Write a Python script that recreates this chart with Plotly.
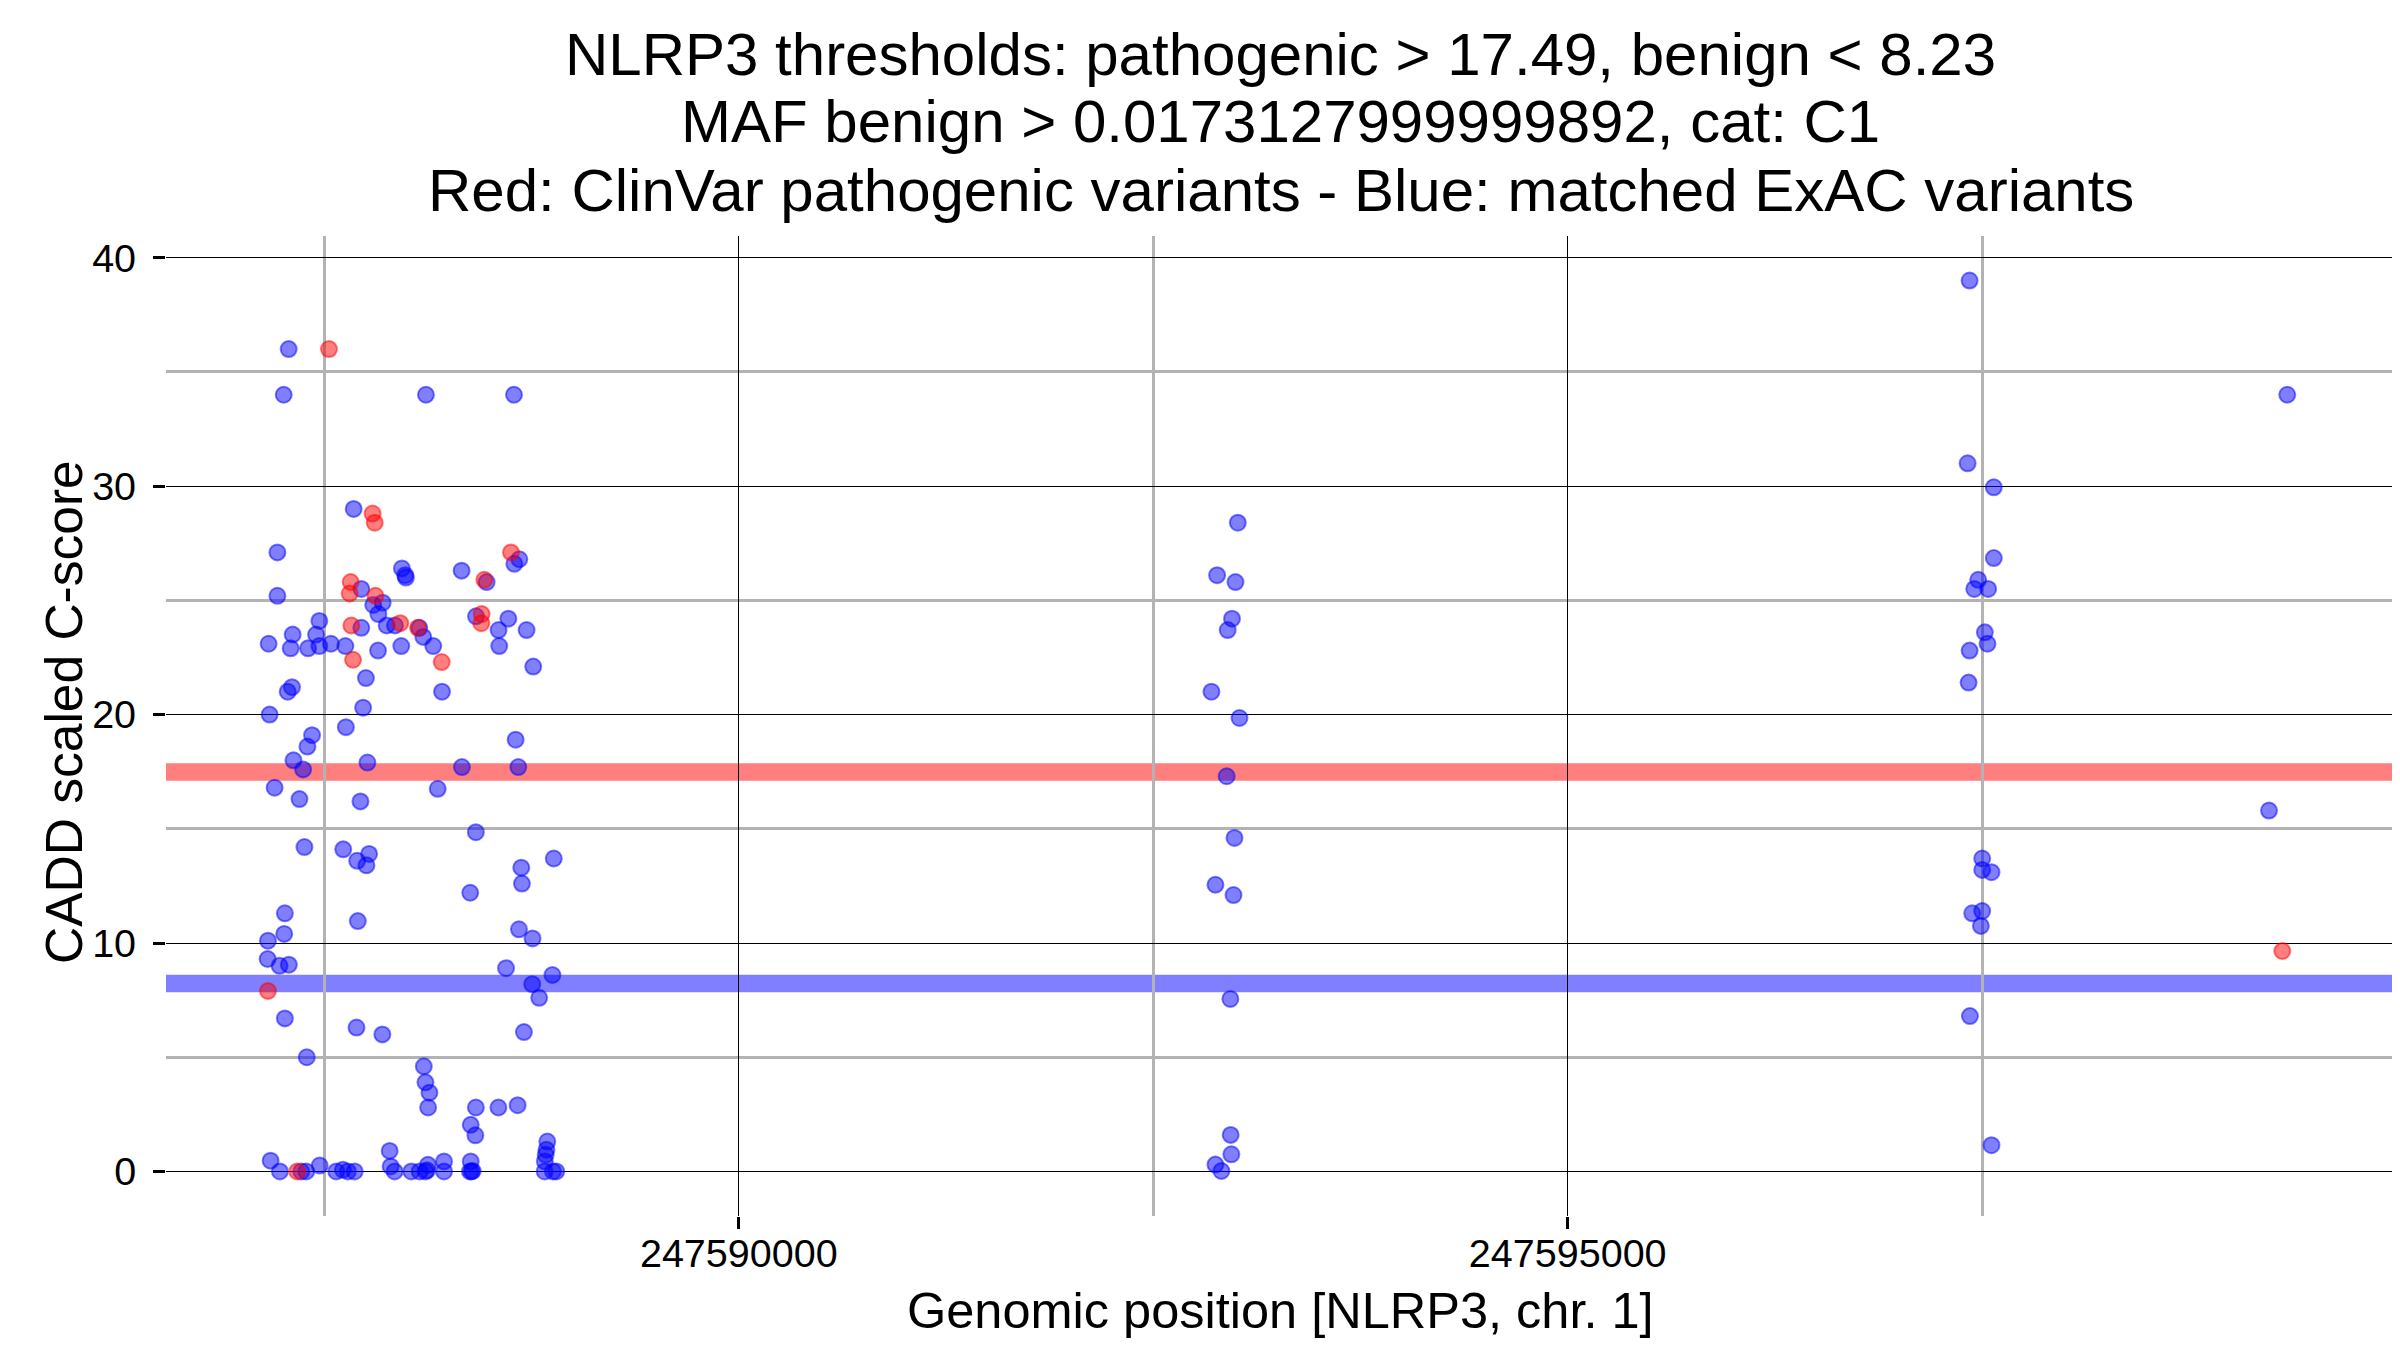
import plotly.graph_objects as go

# ---------------- data ----------------
benign_pos = [
    247587285, 247587255, 247588113, 247588644, 247587677, 247587217, 247587968, 247587988,
    247587992, 247588328, 247588676, 247588646, 247588479, 247587217, 247587723, 247587852,
    247587795, 247587826, 247587470, 247587309, 247587450, 247587164, 247587297, 247587402,
    247587470, 247587540, 247587627, 247587723, 247587824, 247587876, 247587926, 247587964,
    247588073, 247588097, 247588157, 247588210, 247588415, 247588610, 247588551, 247588555,
    247588720, 247588760, 247587751, 247587305, 247587279, 247587170, 247587734,
    247587630, 247587426, 247587398, 247587314, 247587372, 247587760, 247588330, 247588670,
    247588654, 247587200, 247587350, 247587718, 247588184, 247588414, 247587380, 247587614,
    247587698, 247587770, 247587754, 247588884, 247588688, 247588692, 247588380, 247587262,
    247587702, 247587258, 247587160, 247588674, 247588756, 247587158, 247587230, 247587286,
    247588596, 247588876, 247588754, 247588796, 247587262, 247587694, 247587850, 247588704,
    247587394, 247588100, 247588110, 247588134, 247588126, 247588414, 247588550, 247588666,
    247588383, 247588411,
    247587176, 247587232, 247587361, 247587391, 247587472, 247587572, 247587612, 247587642,
    247587683, 247587894, 247587900, 247587924, 247588025, 247588075, 247588110, 247588120,
    247588125, 247588222, 247588222, 247588383, 247588378, 247588388, 247588395, 247588845,
    247588840, 247588835, 247588830, 247588829, 247588879, 247588899,
    247593010, 247592885, 247592996, 247592975, 247592949, 247592851, 247593020, 247592943,
    247592990, 247592875, 247592984, 247592965, 247592967, 247592971, 247592875, 247592911,
    247597424, 247597412, 247597570, 247597570, 247597476, 247597452, 247597536, 247597516,
    247597532, 247597424, 247597418, 247597500, 247597500, 247597556, 247597440, 247597500,
    247597492, 247597426, 247597556,
    247599340, 247599230,
]
benign_cadd = [
    36.0, 34.0, 34.0, 34.0, 29.0, 27.1, 26.4, 26.1,
    26.0, 26.3, 26.8, 26.6, 25.8, 25.2, 25.5, 24.9,
    24.8, 24.4, 24.1, 23.5, 23.5, 23.1, 22.9, 22.9,
    23.0, 23.1, 23.0, 23.8, 22.8, 23.9, 23.9, 23.0,
    23.8, 23.4, 23.0, 21.0, 24.3, 24.2, 23.7, 23.0,
    23.7, 22.1, 21.6, 21.2, 21.0, 20.0, 20.3,
    19.45, 19.1, 18.6, 18.0, 17.6, 17.9, 17.7, 17.7,
    18.9, 16.8, 16.3, 16.2, 16.75, 14.85, 14.2, 14.1,
    13.6, 13.9, 13.4, 13.7, 13.3, 12.6, 12.2, 11.3,
    10.96, 10.4, 10.1, 10.6, 10.2, 9.3, 9.0, 9.05,
    8.9, 8.6, 8.2, 7.6, 6.7, 6.3, 6.0, 6.1,
    5.0, 4.6, 3.9, 3.45, 2.8, 2.8, 2.8, 2.9,
    2.04, 1.58,
    0.47, 0.0, 0.0, 0.0, 0.26, 0.0, 0.07, 0.0,
    0.0, 0.9, 0.22, 0.0, 0.0, 0.0, 0.0, 0.05,
    0.29, 0.44, 0.0, 0.44, 0.0, 0.0, 0.02, 1.31,
    0.95, 0.73, 0.44, 0.0, 0.0, 0.0,
    28.4, 26.1, 25.8, 24.2, 23.7, 21.0, 19.85, 17.3,
    14.6, 12.55, 12.1, 7.55, 1.6, 0.75, 0.3, 0.02,
    39.0, 31.0, 29.95, 26.85, 25.9, 25.5, 25.5, 23.6,
    23.1, 22.8, 21.4, 13.7, 13.2, 13.1, 11.3, 11.4,
    10.75, 6.8, 1.15,
    34.0, 15.8,
]

pathogenic_pos = [
    247587528, 247587791, 247587804, 247588626, 247588465, 247587659, 247587653, 247587808,
    247587663, 247587673, 247587958, 247588065, 247588208, 247588449, 247588447, 247587160,
    247587337, 247599310,
]
pathogenic_cadd = [
    36.0, 28.8, 28.4, 27.1, 25.9, 25.8, 25.3, 25.2,
    23.9, 22.4, 24.0, 23.8, 22.3, 24.4, 24.0, 7.9,
    0.0, 9.65,
]

threshold_pathogenic = 17.49
threshold_benign = 8.23

title_lines = [
    "NLRP3 thresholds: pathogenic > 17.49, benign < 8.23",
    "MAF benign > 0.0173127999999892, cat: C1",
    "Red: ClinVar pathogenic variants - Blue: matched ExAC variants",
]
x_major = [247590000, 247595000]
x_major_text = ["247590000", "247595000"]
x_minor = [247587500, 247592500, 247597500]
y_major = [0, 10, 20, 30, 40]
y_minor = [5, 15, 25, 35]

# ---------------- figure ----------------
FONT = "Liberation Sans, Arial, Helvetica, sans-serif"
W, H = 2400, 1350
ML, MR, MT, MB = 158, 13, 228, 142
PH = H - MT - MB

def py2paper(py):
    return (H - MB - py) / PH

fig = go.Figure()

fig.add_trace(go.Scatter(
    x=benign_pos, y=benign_cadd, mode="markers",
    marker=dict(size=16, color="rgba(0,0,255,0.5)",
                line=dict(color="rgba(0,0,255,0.5)", width=2)),
    showlegend=False, hoverinfo="x+y"))
fig.add_trace(go.Scatter(
    x=pathogenic_pos, y=pathogenic_cadd, mode="markers",
    marker=dict(size=16, color="rgba(255,0,0,0.5)",
                line=dict(color="rgba(255,0,0,0.5)", width=2)),
    showlegend=False, hoverinfo="x+y"))

for thr, col in [(threshold_pathogenic, "rgba(255,0,0,0.5)"),
                 (threshold_benign, "rgba(0,0,255,0.5)")]:
    fig.add_shape(type="line", xref="paper", yref="y", x0=0, x1=1, y0=thr, y1=thr,
                  line=dict(color=col, width=17.5), layer="between")

title_py = [47, 113, 182]
for txt, py in zip(title_lines, title_py):
    fig.add_annotation(text=txt, xref="paper", yref="paper", x=0.5, y=py2paper(py),
                       xanchor="center", yanchor="middle", showarrow=False,
                       font=dict(family=FONT, size=60, color="black"))

fig.add_annotation(text="Genomic position [NLRP3, chr. 1]", xref="paper", yref="paper",
                   x=0.5, y=py2paper(1302), xanchor="center", yanchor="middle",
                   showarrow=False, font=dict(family=FONT, size=50.5, color="black"))
fig.add_annotation(text="CADD scaled C-score", xref="paper", yref="paper",
                   x=(56 - ML) / (W - ML - MR), y=py2paper(704), xanchor="center",
                   yanchor="middle", textangle=-90, showarrow=False,
                   font=dict(family=FONT, size=51.5, color="black"))

fig.update_layout(
    width=W, height=H,
    margin=dict(l=ML, r=MR, t=MT, b=MB, pad=0),
    paper_bgcolor="white", plot_bgcolor="white",
    font=dict(family=FONT, color="black"),
    xaxis=dict(
        range=[247586545, 247599990], tickmode="array", tickvals=x_major,
        ticktext=x_major_text, showgrid=True, gridcolor="black", gridwidth=1.3,
        zeroline=False, showline=False, ticks="outside", ticklen=12, tickwidth=2.5,
        tickcolor="black", tickfont=dict(family=FONT, size=39.5, color="black"),
        ticklabelstandoff=-9,
        minor=dict(tickmode="array", tickvals=x_minor, showgrid=True,
                   gridcolor="#B3B3B3", gridwidth=2.7, ticks=""),
    ),
    yaxis=dict(
        range=[-1.95, 40.95], tickmode="array", tickvals=y_major,
        showgrid=True, gridcolor="black", gridwidth=1.3,
        zeroline=False, showline=False, ticks="outside", ticklen=12, tickwidth=3,
        tickcolor="black", tickfont=dict(family=FONT, size=39.5, color="black"),
        ticklabelstandoff=9,
        minor=dict(tickmode="array", tickvals=y_minor, showgrid=True,
                   gridcolor="#B3B3B3", gridwidth=2.7, ticks=""),
    ),
)

fig.write_html("out.html")
